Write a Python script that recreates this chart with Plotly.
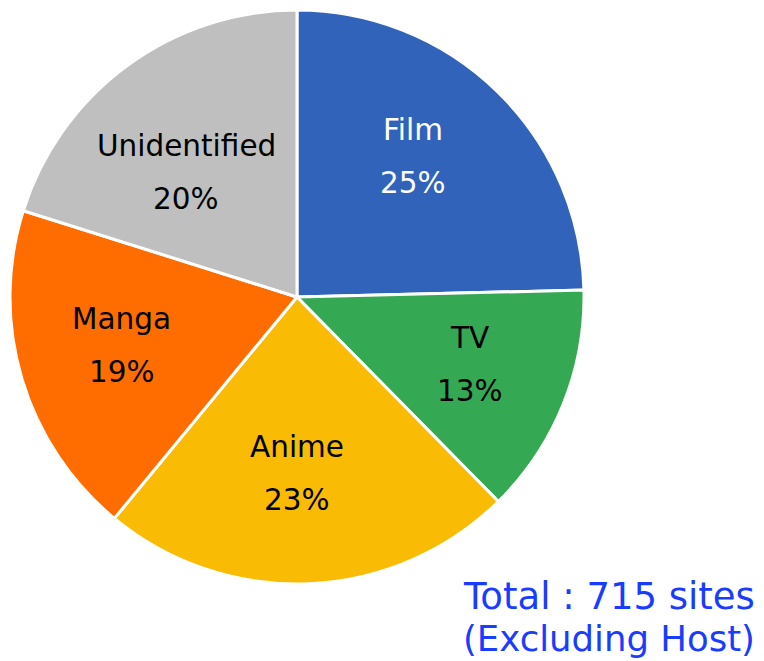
import math
import plotly.graph_objects as go

categories = ["Film", "TV", "Anime", "Manga", "Unidentified"]
counts = [176, 93, 167, 135, 144]
pct_labels = ["25%", "13%", "23%", "19%", "20%"]
colors = ["#3063b9", "#35a853", "#f9bb04", "#ff6d01", "#bfbfbf"]
text_colors = ["#ffffff", "#000000", "#000000", "#000000", "#000000"]
total_note = ["Total : 715 sites", "(Excluding Host)"]

# styling: small pixel nudges of the in-slice labels (best-fit placement)
label_nudge = [(-10, -11), (5, 0), (-8, -4), (-2, -3), (-4, 21)]

W, H = 764, 661
# pie geometry in figure pixels
CX, CY, R = 289, 289, 287
LABEL_R = 0.63
LINE_GAP = 26.5

fig = go.Figure(go.Pie(
    labels=categories,
    values=counts,
    textinfo="none",
    sort=False,
    direction="clockwise",
    rotation=0,
    marker=dict(colors=colors, line=dict(color="#ffffff", width=3)),
    domain=dict(x=[(CX - R) / W, (CX + R) / W], y=[1 - (CY + R) / H, 1 - (CY - R) / H]),
    showlegend=False,
    hoverinfo="label+percent",
))

total = sum(counts)
cum = 0
for cat, cnt, pct, tc, (nx, ny) in zip(categories, counts, pct_labels, text_colors, label_nudge):
    mid = (cum + cnt / 2) / total * 2 * math.pi
    cum += cnt
    lx = CX + LABEL_R * R * math.sin(mid) + nx
    ly = CY - LABEL_R * R * math.cos(mid) + ny
    for txt, dy in ((cat, -LINE_GAP), (pct, LINE_GAP)):
        fig.add_annotation(
            text=txt, x=lx / W, y=1 - (ly + dy) / H,
            xref="paper", yref="paper", xanchor="center", yanchor="middle",
            showarrow=False,
            font=dict(family="DejaVu Sans", size=29.5, color=tc),
        )

for line, y_px, fs in zip(total_note, (588, 630), (37, 35.5)):
    fig.add_annotation(
        text=line, x=454 / W, y=1 - y_px / H,
        xref="paper", yref="paper", xanchor="left", yanchor="middle",
        showarrow=False, borderpad=0,
        font=dict(family="DejaVu Sans", size=fs, color="#1a3cff"),
    )

fig.update_layout(
    width=W, height=H,
    margin=dict(l=0, r=0, t=0, b=0),
    paper_bgcolor="#ffffff",
    plot_bgcolor="#ffffff",
)

fig.write_html("out.html")
